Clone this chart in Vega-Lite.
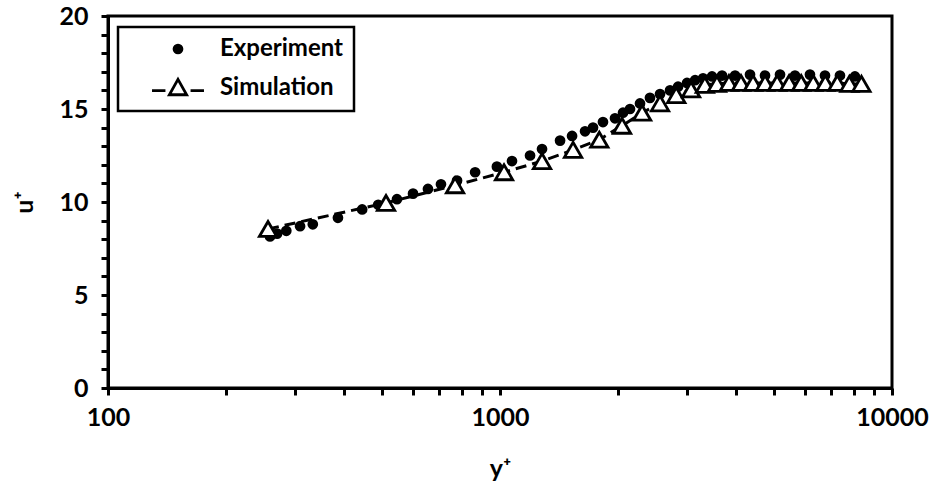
{
  "$schema": "https://vega.github.io/schema/vega-lite/v6.json",
  "autosize": "none",
  "width": 784,
  "height": 372,
  "padding": {"left": 108, "top": 16, "right": 46, "bottom": 98},
  "background": "white",
  "config": {
    "view": {"stroke": "black", "strokeWidth": 3},
    "axis": {
      "grid": false,
      "domainColor": "black",
      "domainWidth": 3,
      "tickColor": "black",
      "tickWidth": 3,
      "tickSize": 7,
      "labelFont": "Lato",
      "labelFontWeight": "bold",
      "labelFontSize": 25,
      "labelColor": "black",
      "titleFont": "Lato",
      "titleFontWeight": "bold",
      "titleFontSize": 25,
      "titleColor": "black"
    },
    "legend": {
      "labelFont": "Lato",
      "labelFontWeight": "bold",
      "labelFontSize": 24,
      "labelColor": "black",
      "strokeWidth": 2.5
    }
  },
  "data": {
    "values": [
      {"s": "Experiment", "x": 259, "u": 8.15},
      {"s": "Experiment", "x": 270, "u": 8.3},
      {"s": "Experiment", "x": 285, "u": 8.45},
      {"s": "Experiment", "x": 309, "u": 8.7},
      {"s": "Experiment", "x": 333, "u": 8.8},
      {"s": "Experiment", "x": 386, "u": 9.15},
      {"s": "Experiment", "x": 445, "u": 9.6},
      {"s": "Experiment", "x": 489, "u": 9.85},
      {"s": "Experiment", "x": 546, "u": 10.15},
      {"s": "Experiment", "x": 600, "u": 10.45},
      {"s": "Experiment", "x": 655, "u": 10.7},
      {"s": "Experiment", "x": 707, "u": 10.95},
      {"s": "Experiment", "x": 777, "u": 11.15},
      {"s": "Experiment", "x": 864, "u": 11.6},
      {"s": "Experiment", "x": 982, "u": 11.9},
      {"s": "Experiment", "x": 1073, "u": 12.2},
      {"s": "Experiment", "x": 1193, "u": 12.5},
      {"s": "Experiment", "x": 1280, "u": 12.85},
      {"s": "Experiment", "x": 1423, "u": 13.3},
      {"s": "Experiment", "x": 1527, "u": 13.55},
      {"s": "Experiment", "x": 1648, "u": 13.8},
      {"s": "Experiment", "x": 1727, "u": 14.0},
      {"s": "Experiment", "x": 1831, "u": 14.3},
      {"s": "Experiment", "x": 1965, "u": 14.5},
      {"s": "Experiment", "x": 2060, "u": 14.8},
      {"s": "Experiment", "x": 2146, "u": 15.0},
      {"s": "Experiment", "x": 2276, "u": 15.3},
      {"s": "Experiment", "x": 2413, "u": 15.6},
      {"s": "Experiment", "x": 2560, "u": 15.8},
      {"s": "Experiment", "x": 2715, "u": 16.0},
      {"s": "Experiment", "x": 2846, "u": 16.2},
      {"s": "Experiment", "x": 3000, "u": 16.4},
      {"s": "Experiment", "x": 3145, "u": 16.55},
      {"s": "Experiment", "x": 3296, "u": 16.65},
      {"s": "Experiment", "x": 3474, "u": 16.75},
      {"s": "Experiment", "x": 3685, "u": 16.8},
      {"s": "Experiment", "x": 3978, "u": 16.8},
      {"s": "Experiment", "x": 4343, "u": 16.85},
      {"s": "Experiment", "x": 4743, "u": 16.8},
      {"s": "Experiment", "x": 5180, "u": 16.85},
      {"s": "Experiment", "x": 5656, "u": 16.8},
      {"s": "Experiment", "x": 6176, "u": 16.85},
      {"s": "Experiment", "x": 6746, "u": 16.8},
      {"s": "Experiment", "x": 7366, "u": 16.8},
      {"s": "Experiment", "x": 8044, "u": 16.75},
      {"s": "Simulation", "x": 256, "u": 8.55},
      {"s": "Simulation", "x": 512, "u": 9.95},
      {"s": "Simulation", "x": 768, "u": 10.9},
      {"s": "Simulation", "x": 1024, "u": 11.6},
      {"s": "Simulation", "x": 1280, "u": 12.2},
      {"s": "Simulation", "x": 1536, "u": 12.8},
      {"s": "Simulation", "x": 1792, "u": 13.35},
      {"s": "Simulation", "x": 2048, "u": 14.1},
      {"s": "Simulation", "x": 2304, "u": 14.8},
      {"s": "Simulation", "x": 2560, "u": 15.3},
      {"s": "Simulation", "x": 2816, "u": 15.75},
      {"s": "Simulation", "x": 3072, "u": 16.05},
      {"s": "Simulation", "x": 3331, "u": 16.3},
      {"s": "Simulation", "x": 3576, "u": 16.35},
      {"s": "Simulation", "x": 3838, "u": 16.4},
      {"s": "Simulation", "x": 4119, "u": 16.4},
      {"s": "Simulation", "x": 4421, "u": 16.4},
      {"s": "Simulation", "x": 4745, "u": 16.4},
      {"s": "Simulation", "x": 5093, "u": 16.4},
      {"s": "Simulation", "x": 5466, "u": 16.4},
      {"s": "Simulation", "x": 5866, "u": 16.4},
      {"s": "Simulation", "x": 6296, "u": 16.4},
      {"s": "Simulation", "x": 6758, "u": 16.4},
      {"s": "Simulation", "x": 7253, "u": 16.4},
      {"s": "Simulation", "x": 7784, "u": 16.35},
      {"s": "Simulation", "x": 8355, "u": 16.35}
    ]
  },
  "encoding": {
    "x": {
      "field": "x",
      "type": "quantitative",
      "scale": {"type": "log", "domain": [100, 10000], "nice": false},
      "axis": {
        "title": "y⁺",
        "titleY": 88,
        "titleBaseline": "alphabetic",
        "values": [100, 200, 300, 400, 500, 600, 700, 800, 900, 1000, 2000, 3000, 4000, 5000, 6000, 7000, 8000, 9000, 10000],
        "labelExpr": "(datum.value == 100 || datum.value == 1000 || datum.value == 10000) ? datum.value + '' : ''",
        "labelPadding": 10,
        "labelFlush": false,
        "labelOverlap": false
      }
    },
    "y": {
      "field": "u",
      "type": "quantitative",
      "scale": {"domain": [0, 20], "nice": false, "zero": true},
      "axis": {
        "title": "u⁺",
        "titleX": -84,
        "titleY": 186,
        "titleBaseline": "middle",
        "values": [0, 1, 2, 3, 4, 5, 6, 7, 8, 9, 10, 11, 12, 13, 14, 15, 16, 17, 18, 19, 20],
        "labelExpr": "datum.value % 5 === 0 ? datum.value + '' : ''",
        "labelPadding": 13,
        "labelFlush": false,
        "labelOverlap": false
      }
    }
  },
  "layer": [
    {
      "transform": [{"filter": "datum.s === 'Experiment'"}],
      "mark": {"type": "point", "filled": true, "opacity": 1, "stroke": "black"},
      "encoding": {
        "shape": {
          "field": "s",
          "type": "nominal",
          "scale": {"domain": ["Experiment", "Simulation"], "range": ["circle", "M-3,0.3L-1.45,0.3M1.45,0.3L3,0.3M0,-1L1,0.78L-1,0.78Z"]},
          "legend": {
            "title": null,
            "orient": "none",
            "legendX": 10,
            "legendY": 11,
            "direction": "vertical",
            "strokeColor": "black",
            "fillColor": "white",
            "padding": 10,
            "rowPadding": 12,
            "symbolOffset": 38,
            "labelOffset": 30,
            "symbolStrokeColor": "black",
            "symbolOpacity": 1
          }
        },
        "fill": {
          "field": "s",
          "type": "nominal",
          "scale": {"domain": ["Experiment", "Simulation"], "range": ["black", "white"]},
          "legend": {"title": null}
        },
        "size": {
          "field": "s",
          "type": "nominal",
          "scale": {"domain": ["Experiment", "Simulation"], "range": [115, 300]},
          "legend": {"title": null}
        },
        "strokeWidth": {
          "field": "s",
          "type": "nominal",
          "scale": {"domain": ["Experiment", "Simulation"], "range": [0, 2.8]},
          "legend": {"title": null}
        }
      }
    },
    {
      "transform": [{"filter": "datum.s === 'Simulation'"}],
      "mark": {"type": "line", "color": "black", "strokeWidth": 3, "strokeDash": [11, 6]},
      "encoding": {}
    },
    {
      "transform": [{"filter": "datum.s === 'Simulation'"}],
      "mark": {"type": "point", "shape": "triangle-up", "filled": true, "fill": "white", "stroke": "black", "strokeWidth": 2.8, "size": 300, "opacity": 1},
      "encoding": {}
    }
  ]
}
